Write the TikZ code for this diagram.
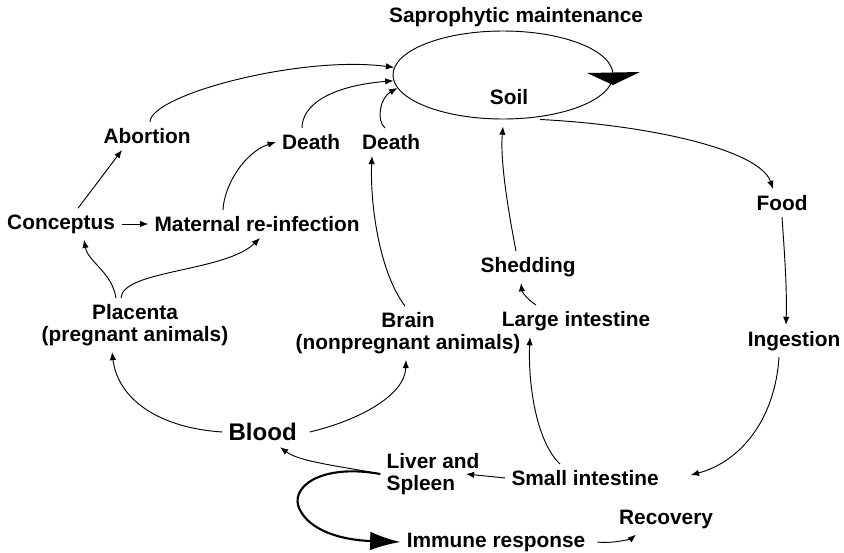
\documentclass[tikz,border=0pt]{standalone}
\usepackage{fontspec}
\setmainfont{Liberation Sans}
\usetikzlibrary{positioning,shapes.geometric,arrows.meta}

\begin{document}
\begin{tikzpicture}[x = 0.03cm, y = -0.03cm, line width = 0.8pt,
    every node/.style = { font = \bfseries\fontsize{17.8}{18.5}\selectfont, align = center, inner sep = 5pt },
    flow/.style = { -{Latex[length = 7pt, width = 5.5pt]} },
    bigflow/.style = { line width = 1.8pt, -{Latex[length = 26pt, width = 16pt]} }]
  \useasboundingbox (0,0) rectangle (844,552);

  \node (saprophytic) at (519,17) { Saprophytic maintenance };
  \node [draw, ellipse, minimum width = 6.6cm, minimum height = 2.64cm, inner sep = 0pt] (soil) at (503,75) {};
  \node (soiltext) at (512,97) { Soil };
  \node (abortion) at (150,136) { Abortion };
  \node (deatha) at (314,142) { Death };
  \node (deathb) at (394,142) { Death };
  \node (conceptus) at (64,224) { Conceptus };
  \node (maternal) at (260,224) { Maternal re-infection };
  \node (food) at (785,203) { Food };
  \node (shedding) at (531,267) { Shedding };
  \node (placenta) at (135,325) { Placenta \\ (pregnant animals) };
  \node (brain) at (408,333) { Brain \\ (nonpregnant animals) };
  \node (largeint) at (579,321) { Large intestine };
  \node (ingestion) at (797,341) { Ingestion };
  \node [font = \bfseries\fontsize{20.5}{22}\selectfont] (blood) at (266,432) { Blood };
  \node [align = left] (liver) at (433,474) { Liver and \\ Spleen };
  \node (smallint) at (588,478) { Small intestine };
  \node (recovery) at (669,519) { Recovery };
  \node (immune) at (499,542) { Immune response };

  \fill (587,73) -- (640,72) -- (613,85) -- cycle;

  \draw [flow] (abortion.north) .. controls (150,95) and (300,55) .. (soil.176);
  \draw [flow] ([shift = {(-12,0)}]deatha.north) .. controls (302,105) and (330,86) .. (soil.183);
  \draw [flow] ([shift = {(-9,0)}]deathb.north) .. controls (376,120) and (380,98) .. (soil.187);
  \draw [flow] ([shift = {(14,0)}]conceptus.north) -- ([shift = {(-28,0)}]abortion.south);
  \draw [flow, shorten < = -4pt] (conceptus.east) -- (maternal.west);
  \draw [flow] ([shift = {(-37,0)}]maternal.north) .. controls (224,185) and (245,152) .. (deatha.west);
  \draw [flow] ([shift = {(-19,0)}]placenta.north) .. controls (112,272) and (88,262) .. ([shift = {(20,0)}]conceptus.south);
  \draw [flow] ([shift = {(-14,0)}]placenta.north) .. controls (122,270) and (225,272) .. (maternal.south);
  \draw [flow] ([shift = {(-3,0)}]brain.north) .. controls (378,270) and (370,200) .. ([shift = {(-22,0)}]deathb.south);
  \draw [flow] (blood.west) .. controls (160,428) and (118,400) .. ([shift = {(-23,0)}]placenta.south);
  \draw [flow] (blood.east) .. controls (360,420) and (405,395) .. ([shift = {(-2,0)}]brain.south);
  \draw [flow] (liver.west) .. controls (340,466) and (300,462) .. ([shift = {(14,0)}]blood.south);
  \draw [flow] (smallint.west) -- ([shift = {(33,0)}]liver.center);
  \draw [bigflow] (liver.west) .. controls (320,463) and (288,488) .. (300,510) .. controls (310,530) and (340,540) .. (immune.west);
  \draw [flow] (immune.east) .. controls (615,544) and (632,538) .. ([shift = {(-33,0)}]recovery.south);
  \draw [flow] ([shift = {(-28,0)}]smallint.north) .. controls (535,440) and (528,380) .. ([shift = {(-49,0)}]largeint.south);
  \draw [flow] ([shift = {(-43,0)}]largeint.north) .. controls (528,300) and (522,292) .. ([shift = {(-10,0)}]shedding.south);
  \draw [flow] ([shift = {(-15,0)}]shedding.north) .. controls (508,210) and (500,160) .. ([shift = {(0,7)}]soil.south);
  \draw [flow] ([shift = {(37,0)}]soil.south) .. controls (650,125) and (760,150) .. ([shift = {(-12,0)}]food.north);
  \draw [flow] ([shift = {(-3,0)}]food.south) .. controls (785,260) and (787,290) .. ([shift = {(-11,0)}]ingestion.north);
  \draw [flow] ([shift = {(-18,0)}]ingestion.south) .. controls (775,420) and (740,462) .. ([shift = {(20,-3)}]smallint.east);
\end{tikzpicture}
\end{document}
